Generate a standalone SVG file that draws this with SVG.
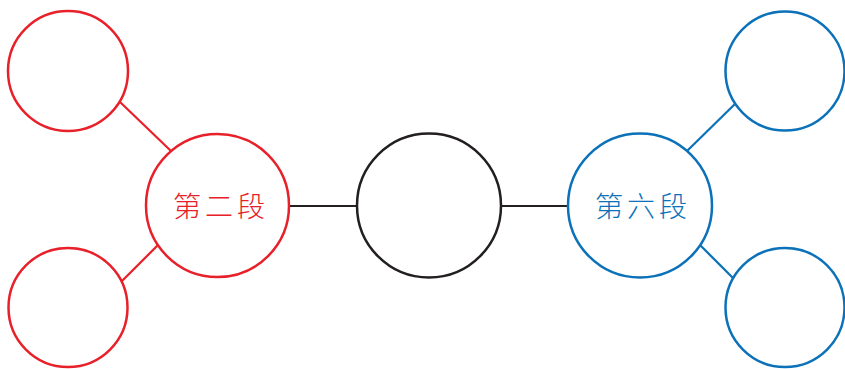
<svg xmlns="http://www.w3.org/2000/svg" width="845" height="369" viewBox="0 0 845 369">
<style>
.red{fill:#fff;stroke:#e8202a;stroke-width:2.5}
.blue{fill:#fff;stroke:#0b71b9;stroke-width:2.5}
.black{fill:#fff;stroke:#231f20;stroke-width:2.5}
.lr{stroke:#e8202a;stroke-width:2.2}
.lb{stroke:#0b71b9;stroke-width:2.2}
.lk{stroke:#231f20;stroke-width:2.2}
.t{font-family:"Noto Sans CJK TC","Noto Sans CJK SC",sans-serif;font-size:28px;font-weight:300;text-anchor:middle;dominant-baseline:central;letter-spacing:4px}
</style>
<rect width="845" height="369" fill="#fff"/>
<g id="connectors">
<line class="lr" x1="120" y1="102" x2="171" y2="151"/>
<line class="lr" x1="122" y1="281" x2="158" y2="245"/>
<line class="lk" x1="289" y1="206" x2="357" y2="206"/>
<line class="lk" x1="501" y1="206" x2="568" y2="206"/>
<line class="lb" x1="736" y1="103" x2="687" y2="151"/>
<line class="lb" x1="700" y1="245" x2="734" y2="279"/>
</g>
<g id="n-tl"><circle class="red" cx="68" cy="71" r="60"/></g>
<g id="n-bl"><circle class="red" cx="68" cy="307.5" r="59.5"/></g>
<g id="n-red"><circle class="red" cx="217.5" cy="205.5" r="71.5"/>
<text class="t" x="221" y="205" fill="#e8202a">第二段</text></g>
<g id="n-center"><circle class="black" cx="429" cy="205.5" r="72"/></g>
<g id="n-blue"><circle class="blue" cx="640" cy="205.5" r="72"/>
<text class="t" x="643" y="205" fill="#0b71b9">第六段</text></g>
<g id="n-tr"><circle class="blue" cx="785" cy="71" r="59.5"/></g>
<g id="n-br"><circle class="blue" cx="785" cy="307.5" r="59.5"/></g>
</svg>
